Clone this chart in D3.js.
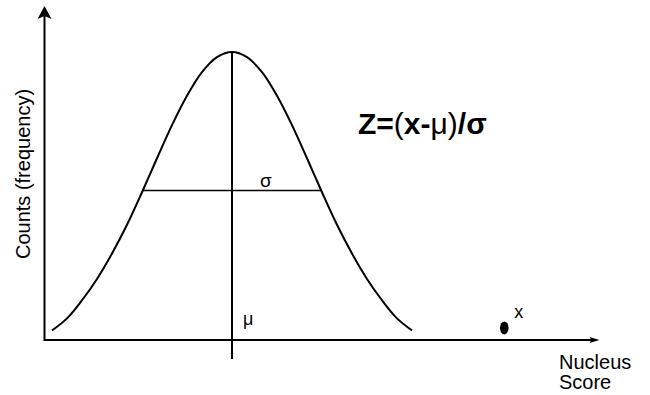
<!DOCTYPE html>
<html>
<head>
<meta charset="utf-8">
<script src="https://cdn.jsdelivr.net/npm/d3@7"></script>
<style>
  body { margin: 0; background: #fff; }
  svg { display: block; font-family: "Liberation Sans", Arial, sans-serif; }
  .axis, .curve, .mean, .sigma { fill: none; stroke: #000; }
</style>
</head>
<body>
<svg id="chart" width="650" height="395"></svg>
<script>
// score in sigma units (mu = 0), relative count (peak = 1)
const curveX = [-2.4, -2.2, -2.0, -1.8, -1.6, -1.4, -1.2, -1.0, -0.8, -0.6, -0.4, -0.2, 0,
  0.2, 0.4, 0.6, 0.8, 1.0, 1.2, 1.4, 1.6, 1.8, 2.0, 2.2, 2.4];
const curveY = [0.033, 0.075, 0.138, 0.212, 0.3, 0.4, 0.513, 0.631, 0.746, 0.848, 0.93, 0.982, 1.0,
  0.982, 0.93, 0.848, 0.746, 0.631, 0.513, 0.4, 0.3, 0.212, 0.138, 0.075, 0.033];

const mu = 0;
const sigmaSpan = [-1.19, 1.19]; // width line
const sigmaLevel = 0.519;
const point = {x: 3.63, y: 0.042};

const xDomain = [-2.5, 4.9];
const yDomain = [0, 1.16];

const svg = d3.select('#chart');
const x = d3.scaleLinear().domain(xDomain).range([44.5, 599.5]);
const y = d3.scaleLinear().domain([0, 1]).range([340, 52]);

// axes
const x0 = x(xDomain[0]), xEnd = x(xDomain[1]);
const yBase = y(0), yTop = y(yDomain[1]);

svg.append('line').classed('axis', true)
  .attr('x1', x0).attr('x2', xEnd - 6)
  .attr('y1', yBase).attr('y2', yBase)
  .attr('stroke-width', 2);
svg.append('line').classed('axis', true)
  .attr('x1', x0).attr('x2', x0)
  .attr('y1', yBase + 1).attr('y2', yTop + 8)
  .attr('stroke-width', 2);

// arrow heads
svg.append('path')
  .attr('d', `M${xEnd},${yBase} l-10,-3 l2,3 l-2,3 z`)
  .attr('fill', '#000');
svg.append('path')
  .attr('d', `M${x0},${yTop} l-7,13 l7,-3 l7,3 z`)
  .attr('fill', '#000');

// bell curve
const pts = curveX.map((d, i) => [d, curveY[i]]);
svg.append('path').classed('curve', true)
  .attr('d', d3.line().x((d) => x(d[0])).y((d) => y(d[1])).curve(d3.curveCatmullRom)(pts))
  .attr('stroke-width', 2);

// mean line (runs past the axis)
svg.append('line').classed('mean', true)
  .attr('x1', x(mu)).attr('x2', x(mu))
  .attr('y1', y(1)).attr('y2', yBase + 19)
  .attr('stroke-width', 2);

// sigma width line
svg.append('line').classed('sigma', true)
  .attr('x1', x(sigmaSpan[0])).attr('x2', x(sigmaSpan[1]))
  .attr('y1', y(sigmaLevel)).attr('y2', y(sigmaLevel))
  .attr('stroke-width', 1.5);

// the x observation
svg.append('ellipse')
  .attr('cx', x(point.x)).attr('cy', y(point.y))
  .attr('rx', 4.3).attr('ry', 6.5)
  .attr('fill', '#000');

// labels
svg.append('text')
  .attr('x', x(point.x) + 10).attr('y', y(point.y) - 10)
  .attr('font-size', 18).text('x');

svg.append('text')
  .attr('x', x(mu) + 11).attr('y', yBase - 15)
  .attr('font-size', 18).text('\u03bc');

svg.append('text')
  .attr('x', x(mu) + 28).attr('y', y(sigmaLevel) - 4)
  .attr('font-size', 19).text('\u03c3');

const z = svg.append('text')
  .attr('x', 358).attr('y', 134)
  .attr('font-size', 30).attr('font-weight', 'bold');
z.append('tspan').text('Z=');
z.append('tspan').attr('font-weight', 'normal').text('(');
z.append('tspan').text('x-');
z.append('tspan').attr('font-weight', 'normal').text('\u03bc');
z.append('tspan').attr('font-weight', 'normal').text(')');
z.append('tspan').text('/\u03c3');

svg.append('text')
  .attr('x', 559).attr('y', 369)
  .attr('font-size', 20).text('Nucleus');
svg.append('text')
  .attr('x', 559).attr('y', 389)
  .attr('font-size', 20).text('Score');

svg.append('text')
  .attr('transform', 'translate(30,174) rotate(-90)')
  .attr('text-anchor', 'middle')
  .attr('font-size', 20).text('Counts (frequency)');
</script>
</body>
</html>
